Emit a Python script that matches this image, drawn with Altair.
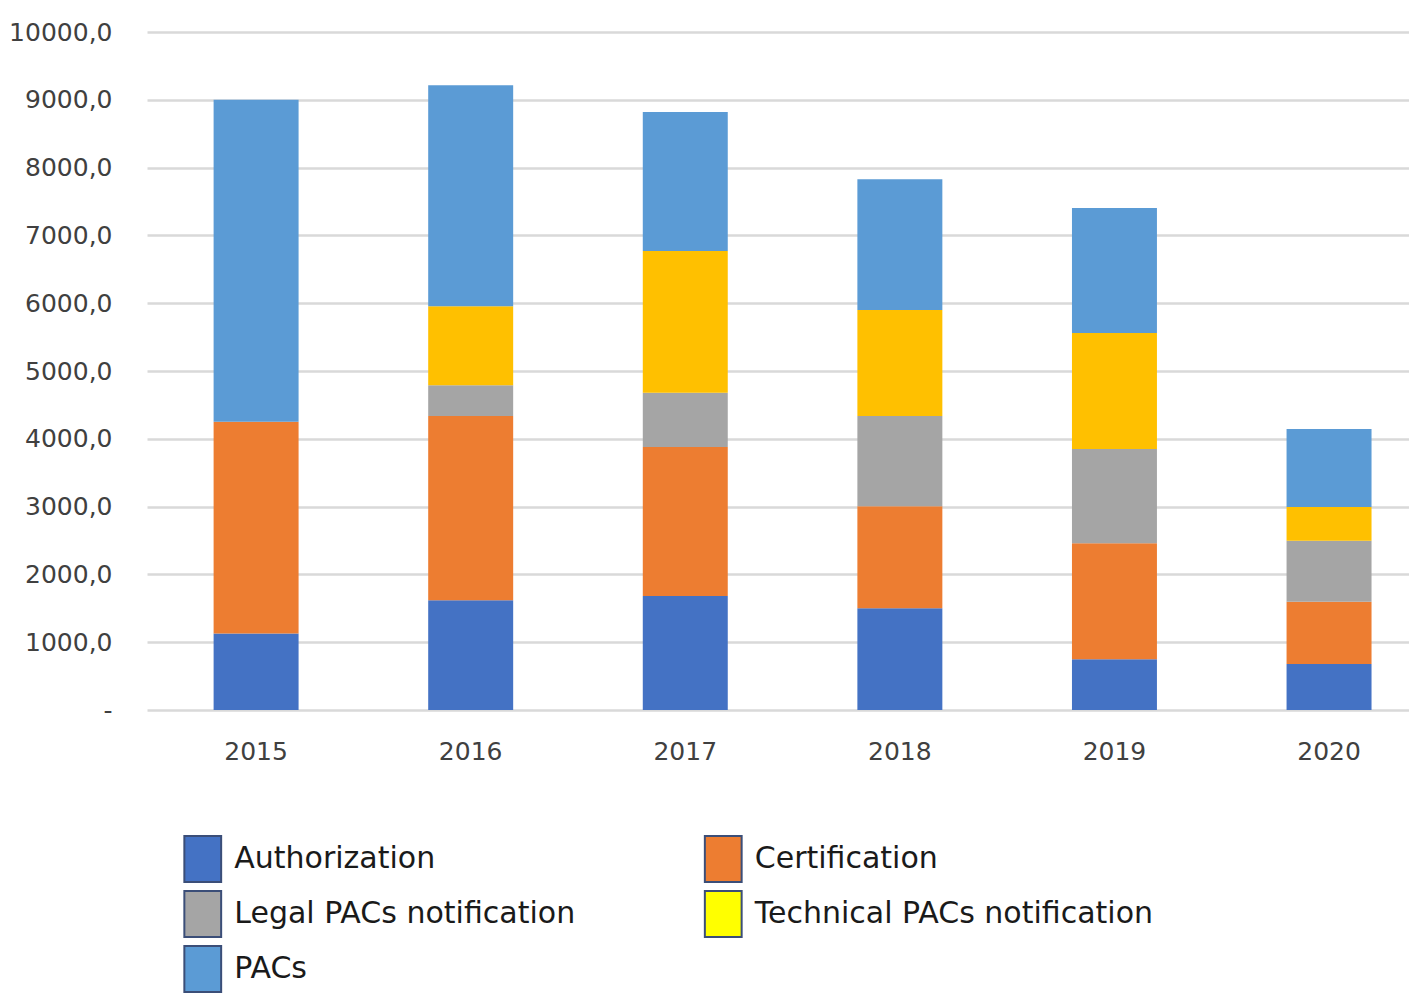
import altair as alt
import pandas as pd

# values
years = ["2015", "2016", "2017", "2018", "2019", "2020"]
authorization = [1130, 1620, 1680, 1500, 750, 680]
certification = [3120, 2715, 2200, 1505, 1710, 915]
legal_pacs = [0, 455, 800, 1330, 1390, 900]
technical_pacs = [0, 1165, 2090, 1565, 1710, 500]
pacs = [4750, 3260, 2050, 1930, 1845, 1150]

series = ["Authorization", "Certification", "Legal PACs notification",
          "Technical PACs notification", "PACs"]
bar_colors = ["#4472C4", "#ED7D31", "#A5A5A5", "#FFC000", "#5B9BD5"]
legend_colors = ["#4472C4", "#ED7D31", "#A5A5A5", "#FFFF00", "#5B9BD5"]
legend_col = [0, 1, 0, 1, 0]
legend_row = [0, 0, 1, 1, 2]

values = [authorization, certification, legal_pacs, technical_pacs, pacs]
rows = []
for k, (name, vals) in enumerate(zip(series, values)):
    for year, v in zip(years, vals):
        rows.append({"year": year, "series": name, "value": v, "k": k})
df = pd.DataFrame(rows)

legend_df = pd.DataFrame({"series": series, "fill": legend_colors,
                          "col": legend_col, "row": legend_row})

FONT = "DejaVu Sans"
TXT = "#404040"

bars = alt.Chart(df).mark_bar().encode(
    alt.X("year:N", title=None,
          scale=alt.Scale(paddingInner=0.604, paddingOuter=0.2425, align=0.64),
          axis=alt.Axis(labelAngle=0, domain=False, ticks=False, labelPadding=29,
                        labelFont=FONT, labelFontSize=25, labelColor=TXT)),
    alt.Y("value:Q", stack="zero", title=None,
          scale=alt.Scale(domain=[0, 10000], nice=False),
          axis=alt.Axis(values=list(range(0, 10001, 1000)), domain=False, ticks=False,
                        labelPadding=35, labelFont=FONT, labelFontSize=25, labelColor=TXT,
                        gridColor="#D9D9D9", gridWidth=2.5,
                        labelExpr="datum.value == 0 ? '-' : replace(format(datum.value, '.1f'), '.', ',')")),
    alt.Color("series:N", scale=alt.Scale(domain=series, range=bar_colors), legend=None),
    alt.Order("k:Q", sort="ascending"),
).properties(width=1262, height=678)

# hand-built legend below the bars (tall swatches, two columns)
swatch = alt.Chart(legend_df).mark_point(
    shape="M-0.8,-1L0.8,-1L0.8,1L-0.8,1Z", size=2116, filled=True, opacity=1,
    stroke="#3B4E78", strokeWidth=2, xOffset=-204.5
).encode(
    alt.X("col:O", axis=None),
    alt.Y("row:O", axis=None, scale=alt.Scale(padding=0.42)),
    alt.Fill("fill:N", scale=None),
)

labels = alt.Chart(legend_df).mark_text(
    align="left", baseline="middle", xOffset=-204.5, dx=31.5,
    font=FONT, fontSize=30, color="#1a1a1a"
).encode(
    alt.X("col:O", axis=None),
    alt.Y("row:O", axis=None, scale=alt.Scale(padding=0.42)),
    alt.Text("series:N"),
)

legend = (swatch + labels).properties(width=1041, height=156)

chart = alt.vconcat(bars, legend, spacing=68).properties(
    padding={"top": 12, "left": 0, "right": 0, "bottom": 0}
).configure_view(stroke=None)

chart.save("out.html", embed_options={"renderer": "svg", "actions": False})
